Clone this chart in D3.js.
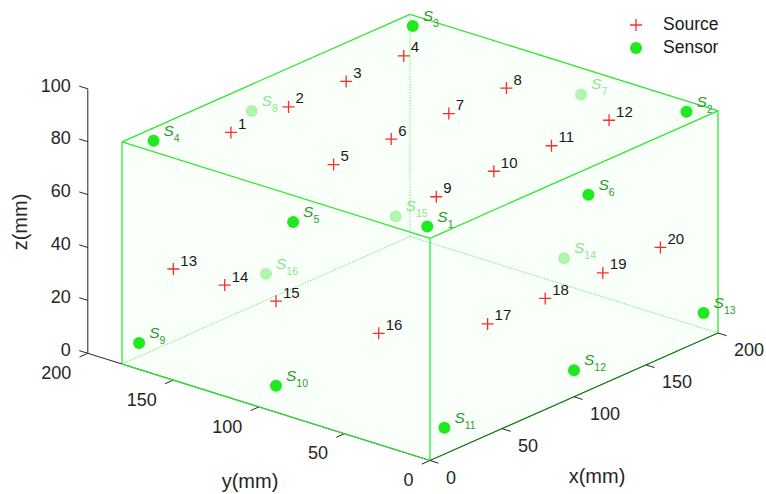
<!DOCTYPE html>
<html>
<head>
<meta charset="utf-8">
<script src="https://cdn.jsdelivr.net/npm/d3@7"></script>
<style>
  html, body { margin: 0; padding: 0; background: #fff; }
  svg { display: block; font-family: Arial, "Liberation Sans", Helvetica, sans-serif; }
</style>
</head>
<body>
<svg id="chart" width="766" height="494"></svg>
<script>
// Specimen block dimensions (mm)
const blockSize = [200, 180, 84];

// Acoustic emission sources
const sourceIds = [1, 2, 3, 4, 5, 6, 7, 8, 9, 10, 11, 12, 13, 14, 15, 16, 17, 18, 19, 20];
const sourceX = [40, 80, 120, 160, 40, 80, 120, 160, 40, 80, 120, 160, 0, 0, 0, 0, 40, 80, 120, 160];
const sourceY = [150, 150, 150, 150, 90, 90, 90, 90, 30, 30, 30, 30, 150, 120, 90, 30, 0, 0, 0, 0];
const sourceZ = [84, 84, 84, 84, 84, 84, 84, 84, 84, 84, 84, 84, 42, 42, 42, 42, 42, 42, 42, 42];

// Sensors
const sensorIds = [1, 2, 3, 4, 5, 6, 7, 8, 9, 10, 11, 12, 13, 14, 15, 16];
const sensorX = [10, 190, 190, 10, 0, 110, 200, 90, 0, 0, 10, 100, 190, 200, 190, 100];
const sensorY = [10, 10, 170, 170, 80, 0, 80, 180, 170, 90, 0, 0, 0, 90, 180, 180];
const sensorZ = [84, 84, 84, 84, 74, 74, 74, 74, 10, 10, 10, 10, 10, 10, 10, 10];

// Axis ticks
const xTicks = [0, 50, 100, 150, 200];
const yTicks = [0, 50, 100, 150, 200];
const zTicks = [0, 20, 40, 60, 80, 100];

const svg = d3.select("#chart");

// Orthographic view: each data axis maps onto a 2D screen vector
const origin = [430, 460.5];
const xProj = d3.scaleLinear().domain([0, 200]).range([[0, 0], [288, -127.5]]);
const yProj = d3.scaleLinear().domain([0, 200]).range([[0, 0], [-342.2, -107.2]]);
const zProj = d3.scaleLinear().domain([0, 100]).range([[0, 0], [0, -264.5]]);

function project(x, y, z) {
  const [ax, ay] = xProj(x);
  const [bx, by] = yProj(y);
  const [cx, cy] = zProj(z);
  return [origin[0] + ax + bx + cx, origin[1] + ay + by + cy];
}

const [W, D, H] = blockSize;
const corner = (i, j, k) => project(i ? W : 0, j ? D : 0, k ? H : 0);
const line = d3.line();

// Faces of the block
const faces = [
  [[0,0,0],[1,0,0],[1,1,0],[0,1,0]],
  [[0,0,1],[1,0,1],[1,1,1],[0,1,1]],
  [[0,0,0],[1,0,0],[1,0,1],[0,0,1]],
  [[0,1,0],[1,1,0],[1,1,1],[0,1,1]],
  [[0,0,0],[0,1,0],[0,1,1],[0,0,1]],
  [[1,0,0],[1,1,0],[1,1,1],[1,0,1]]
];
// Edges hidden behind the block (meeting at the far bottom corner)
const hiddenEdges = [
  [[1,1,0],[1,1,1]], [[1,1,0],[0,1,0]], [[1,1,0],[1,0,0]]
];
const visibleEdges = [
  [[0,0,1],[1,0,1]], [[1,0,1],[1,1,1]], [[1,1,1],[0,1,1]], [[0,1,1],[0,0,1]],
  [[0,0,0],[0,0,1]], [[1,0,0],[1,0,1]], [[0,1,0],[0,1,1]],
  [[0,0,0],[1,0,0]], [[0,0,0],[0,1,0]]
];

const sensors = sensorIds.map((id, i) => ({
  id, x: sensorX[i], y: sensorY[i], z: sensorZ[i],
  hidden: sensorX[i] >= W || sensorY[i] >= D
}));
const sources = sourceIds.map((id, i) => ({ id, x: sourceX[i], y: sourceY[i], z: sourceZ[i] }));

const gBack = svg.append("g");
const gFaces = svg.append("g");
const gAxes = svg.append("g");
const gFront = svg.append("g");

// Hidden edges
gBack.selectAll("path.hid").data(hiddenEdges).join("path")
  .attr("d", e => line(e.map(c => corner(...c))))
  .attr("fill", "none").attr("stroke", "#7dec7d").attr("stroke-width", 1)
  .attr("stroke-dasharray", "1.5,1.2");

// Sensors on the far faces
function drawSensors(g, data) {
  const s = g.selectAll("g.sensor").data(data).join("g").attr("class", "sensor")
    .attr("transform", d => `translate(${project(d.x, d.y, d.z)})`);
  s.append("circle").attr("r", 6)
    .attr("fill", d => d.hidden ? "#b6f4b6" : "#1fe91f");
  const t = s.append("text").attr("x", 10).attr("y", -5)
    .attr("fill", d => d.hidden ? "#8fe88f" : "#2e9a2e")
    .attr("font-size", 15.5);
  t.append("tspan").attr("font-style", "italic").text("S");
  t.append("tspan").attr("dy", 6).attr("font-size", 10.5).text(d => d.id);
}
drawSensors(gBack, sensors.filter(d => d.hidden));

// Translucent faces
gFaces.selectAll("path.face").data(faces).join("path")
  .attr("d", f => line(f.map(c => corner(...c))) + "Z")
  .attr("fill", "#00ff00").attr("fill-opacity", 0.012).attr("stroke", "none");

// Axes
const axisColor = "#262626";
const tickLen = 9;
const unit = v => { const n = Math.hypot(v[0], v[1]); return [v[0] / n, v[1] / n]; };
const yDir = unit(yProj(1).slice());
const xDir = unit(xProj(1).slice());

// z axis at x = 0, y = 200
const zBase = (z) => project(0, 200, z);
gAxes.append("path").attr("d", line([zBase(0), zBase(100)]))
  .attr("stroke", axisColor).attr("stroke-width", 1).attr("fill", "none");
zTicks.forEach(t => {
  const p = zBase(t);
  gAxes.append("path").attr("d", line([p, [p[0] + yDir[0] * tickLen, p[1] + yDir[1] * tickLen]]))
    .attr("stroke", axisColor).attr("stroke-width", 1);
  gAxes.append("text").attr("x", p[0] - 17).attr("y", p[1] - 2)
    .attr("text-anchor", "end").attr("dominant-baseline", "middle")
    .attr("font-size", 18).attr("fill", axisColor).text(t);
});

// y axis at x = 0, z = 0
gAxes.append("path").attr("d", line([project(0, 0, 0), project(0, 200, 0)]))
  .attr("stroke", axisColor).attr("stroke-width", 1).attr("fill", "none");
yTicks.forEach(t => {
  const p = project(0, t, 0);
  gAxes.append("path").attr("d", line([p, [p[0] - xDir[0] * tickLen, p[1] - xDir[1] * tickLen]]))
    .attr("stroke", axisColor).attr("stroke-width", 1);
  gAxes.append("text").attr("x", p[0] - 16.5).attr("y", p[1] + 21)
    .attr("text-anchor", "end").attr("dominant-baseline", "middle")
    .attr("font-size", 18).attr("fill", axisColor).text(t);
});

// Visible edges
gFront.selectAll("path.vis").data(visibleEdges).join("path")
  .attr("d", e => line(e.map(c => corner(...c))))
  .attr("fill", "none").attr("stroke", "#33e633").attr("stroke-width", 1.3);

// x axis at y = 0, z = 0 (drawn over the block edge)
gFront.append("path").attr("d", line([project(0, 0, 0), project(200, 0, 0)]))
  .attr("stroke", axisColor).attr("stroke-opacity", 0.75).attr("stroke-width", 1).attr("fill", "none");
xTicks.forEach(t => {
  const p = project(t, 0, 0);
  gFront.append("path").attr("d", line([p, [p[0] - yDir[0] * tickLen, p[1] - yDir[1] * tickLen]]))
    .attr("stroke", axisColor).attr("stroke-width", 1);
  gFront.append("text").attr("x", p[0] + 16).attr("y", p[1] + 18.5)
    .attr("text-anchor", "start").attr("dominant-baseline", "middle")
    .attr("font-size", 18).attr("fill", axisColor).text(t);
});

// Axis titles
svg.append("text").attr("transform", "translate(22,222) rotate(-90)")
  .attr("text-anchor", "middle").attr("dominant-baseline", "middle")
  .attr("font-size", 20).attr("fill", axisColor).text("z(mm)");
svg.append("text").attr("x", 250).attr("y", 483)
  .attr("text-anchor", "middle").attr("dominant-baseline", "middle")
  .attr("font-size", 20).attr("fill", axisColor).text("y(mm)");
svg.append("text").attr("x", 597).attr("y", 478)
  .attr("text-anchor", "middle").attr("dominant-baseline", "middle")
  .attr("font-size", 20).attr("fill", axisColor).text("x(mm)");

// Sensors on the near faces
drawSensors(gFront.append("g"), sensors.filter(d => !d.hidden));

// Sources
const arm = 6;
const src = gFront.selectAll("g.source").data(sources).join("g").attr("class", "source")
  .attr("transform", d => `translate(${project(d.x, d.y, d.z)})`);
src.append("path").attr("d", `M${-arm},0H${arm}M0,${-arm}V${arm}`)
  .attr("stroke", "#ff2a2a").attr("stroke-width", 1.3).attr("fill", "none");
src.append("text").attr("x", 7).attr("y", -3.5)
  .attr("font-size", 15).attr("fill", "#1a1a1a").text(d => d.id);

// Legend
const legend = svg.append("g").attr("transform", "translate(636,25)");
legend.append("path").attr("d", `M${-arm},0H${arm}M0,${-arm}V${arm}`)
  .attr("stroke", "#ff2a2a").attr("stroke-width", 1.3);
legend.append("text").attr("x", 27).attr("y", 0).attr("dominant-baseline", "middle")
  .attr("font-size", 17.5).attr("fill", "#1a1a1a").text("Source");
legend.append("circle").attr("cx", 0).attr("cy", 23).attr("r", 6).attr("fill", "#1fe91f");
legend.append("text").attr("x", 27).attr("y", 23).attr("dominant-baseline", "middle")
  .attr("font-size", 17.5).attr("fill", "#1a1a1a").text("Sensor");
</script>
</body>
</html>
